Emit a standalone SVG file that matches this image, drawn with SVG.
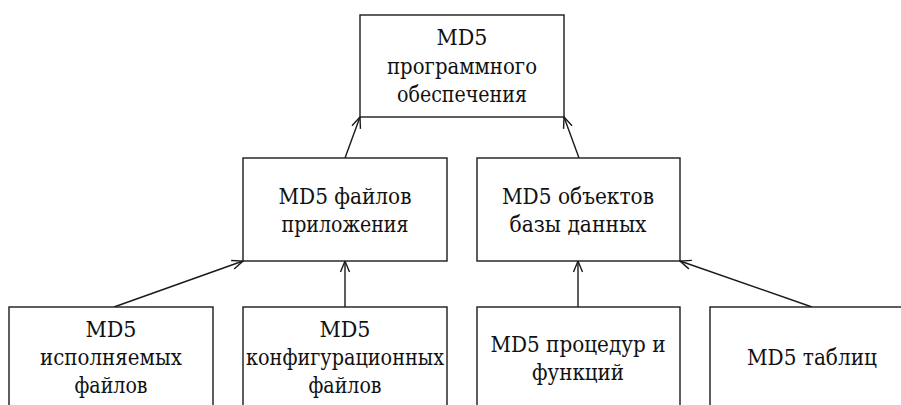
<svg xmlns="http://www.w3.org/2000/svg" width="901" height="405" viewBox="0 0 901 405">
<defs>
<style>
.box{fill:#fff;stroke:#1a1a1a;stroke-width:1.4}
.t{font-family:'DejaVu Serif Condensed','DejaVu Serif','Liberation Serif',serif;font-stretch:condensed;font-size:22px;fill:#111;text-anchor:middle}
.c{stroke:#1a1a1a;stroke-width:1.4;fill:none;marker-end:url(#ah)}
</style>
<marker id="ah" markerUnits="userSpaceOnUse" markerWidth="14" markerHeight="12" viewBox="-12 -6 14 12" refX="0" refY="0" orient="auto">
<path d="M-11,-4.5 L0,0 L-11,4.5" fill="none" stroke="#1a1a1a" stroke-width="1.4"/>
</marker>
</defs>
<rect width="901" height="405" fill="#fff"/>
<g id="connectors">
<line class="c" x1="345" y1="158" x2="360" y2="117"/>
<line class="c" x1="579" y1="158" x2="564" y2="117"/>
<line class="c" x1="114" y1="307" x2="243" y2="261"/>
<line class="c" x1="345" y1="307" x2="345" y2="261"/>
<line class="c" x1="578" y1="307" x2="578" y2="261"/>
<line class="c" x1="812" y1="307" x2="680" y2="261"/>
</g>
<g id="n_md5_po">
<rect class="box" x="360" y="15" width="204" height="102"/>
<text class="t" x="462" y="45" textLength="51" lengthAdjust="spacingAndGlyphs">MD5</text>
<text class="t" x="462" y="74" textLength="150" lengthAdjust="spacingAndGlyphs">программного</text>
<text class="t" x="462" y="102" textLength="130" lengthAdjust="spacingAndGlyphs">обеспечения</text>
</g>
<g id="n_files_app">
<rect class="box" x="243" y="158" width="204" height="103"/>
<text class="t" x="345" y="204" textLength="133" lengthAdjust="spacingAndGlyphs">MD5 файлов</text>
<text class="t" x="345" y="232" textLength="127" lengthAdjust="spacingAndGlyphs">приложения</text>
</g>
<g id="n_db_objects">
<rect class="box" x="477" y="158" width="203" height="103"/>
<text class="t" x="578" y="204" textLength="152" lengthAdjust="spacingAndGlyphs">MD5 объектов</text>
<text class="t" x="578" y="232" textLength="137" lengthAdjust="spacingAndGlyphs">базы данных</text>
</g>
<g id="n_exec">
<rect class="box" x="9" y="307" width="204" height="120"/>
<text class="t" x="111" y="337" textLength="51" lengthAdjust="spacingAndGlyphs">MD5</text>
<text class="t" x="111" y="365" textLength="142" lengthAdjust="spacingAndGlyphs">исполняемых</text>
<text class="t" x="111" y="393" textLength="73" lengthAdjust="spacingAndGlyphs">файлов</text>
</g>
<g id="n_config">
<rect class="box" x="243" y="307" width="204" height="120"/>
<text class="t" x="345" y="337" textLength="51" lengthAdjust="spacingAndGlyphs">MD5</text>
<text class="t" x="345" y="365" textLength="198" lengthAdjust="spacingAndGlyphs">конфигурационных</text>
<text class="t" x="345" y="393" textLength="73" lengthAdjust="spacingAndGlyphs">файлов</text>
</g>
<g id="n_procs">
<rect class="box" x="477" y="307" width="203" height="120"/>
<text class="t" x="578" y="352" textLength="175" lengthAdjust="spacingAndGlyphs">MD5 процедур и</text>
<text class="t" x="578" y="380" textLength="92" lengthAdjust="spacingAndGlyphs">функций</text>
</g>
<g id="n_tables">
<rect class="box" x="710" y="307" width="204" height="120"/>
<text class="t" x="812" y="365" textLength="130" lengthAdjust="spacingAndGlyphs">MD5 таблиц</text>
</g>
</svg>
